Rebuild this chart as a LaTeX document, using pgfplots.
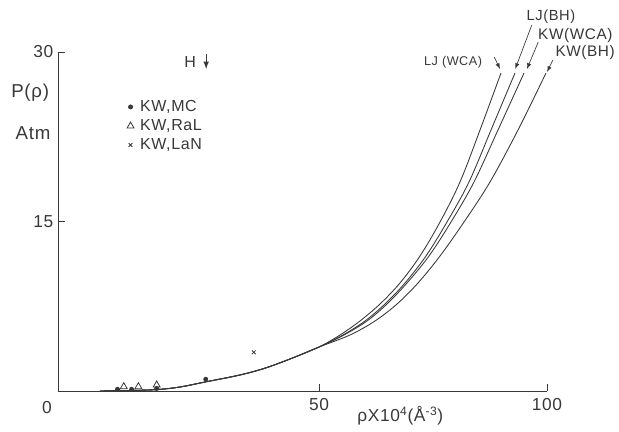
\documentclass[border=0pt]{standalone}
\usepackage{pgfplots}
\pgfplotsset{compat=1.18}
\usepackage{fontspec}
\setmainfont{Liberation Sans}
\newfontfamily\lsfont[LetterSpace=4]{Liberation Sans}
\definecolor{ink}{gray}{0.22}
\begin{document}
\begin{tikzpicture}
\useasboundingbox (-43.5pt,-30.75pt) rectangle (420.75pt,293.25pt);
\begin{axis}[
  scale only axis, width=366.75pt, height=254.25pt,
  xmin=0, xmax=100, ymin=0, ymax=30,
  x coord trafo/.code={\pgfmathparse{(#1<=50)*(#1*1.0675)+(#1>50)*(53.37+(#1-50)*0.9325)}},
  x coord inv trafo/.code={\pgfmathparse{(#1<=53.37)*(#1/1.0675)+(#1>53.37)*(50+(#1-53.37)/0.9325)}},
  axis x line=bottom, axis y line=left,
  axis line style={-, draw=ink, line width=0.6pt},
  xtick={50,100}, xticklabels={50,100},
  ytick={15,30}, yticklabels={15,30},
  tick align=inside, major tick length=5pt,
  tick style={draw=ink, line width=0.6pt},
  /pgf/number format/assume math mode=true,
  tick label style={font=\lsfont\fontsize{13}{15}\selectfont, text=ink},
  xticklabel style={yshift=-2pt},
  clip=false,
  legend style={draw=none, fill=none, at={(axis description cs:0.138,0.868)}, anchor=north west,
    font=\lsfont\fontsize{12}{14}\selectfont, text=ink, row sep=1.5pt, inner sep=1pt,
    nodes={inner sep=1.5pt},
    /tikz/every odd column/.append style={column sep=3pt}},
  legend cell align=left,
  every axis plot/.append style={line width=0.65pt, draw=ink},
]
% legend series
\addplot[only marks, mark=*, mark size=1.5pt, ink, fill=ink] coordinates {(11.4,0.15) (14.1,0.15) (18.9,0.22) (28.3,1.04)};
\addlegendentry{KW,MC}
\addplot[only marks, mark=triangle, mark size=3pt, ink, mark options={fill=white, line width=0.6pt}] coordinates {(12.6,0.38) (15.4,0.38) (18.9,0.53)};
\addlegendentry{KW,RaL}
\addplot[only marks, mark=x, mark size=2pt, ink] coordinates {(37.5,3.42)};
\addlegendentry{KW,LaN}
% LJ(WCA)
\addplot[smooth, tension=0.55, no marks, forget plot] coordinates {
(8,0) (13.79,0.044) (19.16,0.133) (23.37,0.354) (28.16,0.796) (33.52,1.283) (36.78,1.637) (40.04,2.080) (44.44,2.832) (50,3.894)
(54.61,4.956) (58.99,6.195) (63.38,7.699) (67.76,9.558) (72.15,11.947) (76.54,14.956) (80.92,18.496) (85.31,23.097) (89.91,28.142)};
% LJ(BH)
\addplot[smooth, tension=0.55, no marks, forget plot] coordinates {
(8,0) (13.79,0.044) (19.16,0.133) (23.37,0.354) (28.16,0.796) (33.52,1.283) (36.78,1.637) (40.04,2.080) (44.44,2.832) (50,3.894)
(55.26,4.956) (60.09,6.195) (64.47,7.699) (68.86,9.558) (73.46,11.947) (78.07,14.956) (82.89,18.496) (87.72,23.097) (92.98,28.142)};
% KW(WCA)
\addplot[smooth, tension=0.55, no marks, forget plot] coordinates {
(8,0) (13.79,0.044) (19.16,0.133) (23.37,0.354) (28.16,0.796) (33.52,1.283) (36.78,1.637) (40.04,2.080) (44.44,2.832) (50,3.894)
(55.48,4.956) (60.53,6.195) (64.91,7.699) (69.30,9.558) (74.12,11.947) (78.95,14.956) (83.99,18.496) (89.25,23.097) (94.96,28.142)};
% KW(BH)
\addplot[smooth, tension=0.55, no marks, forget plot] coordinates {
(8,0) (13.79,0.044) (19.16,0.133) (23.37,0.354) (28.16,0.796) (33.52,1.283) (36.78,1.637) (40.04,2.080) (44.44,2.832) (50,3.894)
(56.80,4.956) (62.28,6.195) (67.11,7.699) (71.71,9.558) (76.54,11.947) (81.80,14.956) (87.50,18.496) (93.64,23.097) (99.78,28.142)};
% annotations
\node[text=ink, font=\lsfont\fontsize{13}{15}\selectfont] at (axis description cs:-0.0225,-0.05) {0};
\node[text=ink, font=\lsfont\fontsize{13}{15}\selectfont] at (axis description cs:0.70,-0.072) {ρX10\textsuperscript{4}(Å\textsuperscript{-3})};
\node[text=ink, font=\lsfont\fontsize{14}{16}\selectfont] at (axis description cs:-0.057,0.879) {P(ρ)};
\node[text=ink, font=\lsfont\fontsize{14}{16}\selectfont] at (axis description cs:-0.051,0.761) {Atm};
\node[text=ink, font=\lsfont\fontsize{12}{14}\selectfont] at (axis description cs:0.270,0.971) {H};
\draw[-latex, ink, line width=0.9pt] (axis description cs:0.303,0.995) -- (axis description cs:0.303,0.950);
\node[text=ink, font=\lsfont\fontsize{9.5}{11}\selectfont] at (axis description cs:0.808,0.971) {LJ (WCA)};
\draw[-latex, ink, line width=0.5pt] (axis description cs:0.892,0.985) -- (axis description cs:0.904,0.950);
\node[text=ink, font=\lsfont\fontsize{11}{13}\selectfont] at (axis description cs:1.008,1.103) {LJ(BH)};
\draw[-latex, ink, line width=0.5pt] (axis description cs:0.969,1.080) -- (axis description cs:0.935,0.950);
\node[text=ink, font=\lsfont\fontsize{11.5}{13}\selectfont] at (axis description cs:1.058,1.050) {KW(WCA)};
\draw[-latex, ink, line width=0.5pt] (axis description cs:0.982,1.029) -- (axis description cs:0.959,0.950);
\node[text=ink, font=\lsfont\fontsize{11.5}{13}\selectfont] at (axis description cs:1.078,0.997) {KW(BH)};
\draw[-latex, ink, line width=0.5pt] (axis description cs:1.012,0.976) -- (axis description cs:1.0,0.941);
\end{axis}
\end{tikzpicture}
\end{document}
